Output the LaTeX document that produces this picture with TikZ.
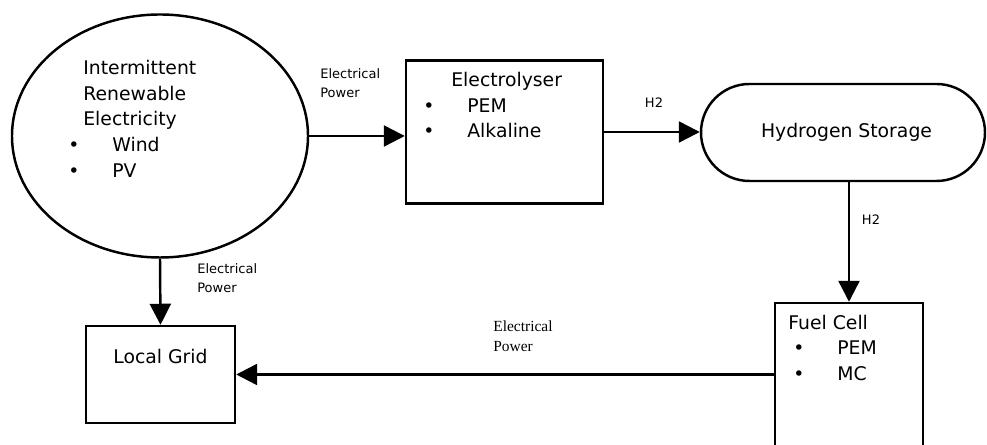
\documentclass[tikz,border=0pt]{standalone}
\usepackage{fontspec}
\setmainfont{DejaVu Sans}
\newfontfamily\lblserif{Liberation Serif}
\usetikzlibrary{arrows.meta,shapes.geometric,shapes.misc}
\newcommand{\itm}[1]{\makebox[0.88cm][l]{\textbullet}#1}
\begin{document}
\begin{tikzpicture}[
    unit/.style={draw, line width=1.4pt, inner sep=0pt},
    arr/.style={line width=1.4pt, -{Triangle[length=0.42cm,width=0.42cm]}},
    body/.style={inner sep=0pt, align=left, font=\fontsize{10.7}{14.6}\selectfont},
    lbl/.style={inner sep=0pt, align=left, font=\fontsize{7.4}{10.8}\selectfont}]
  \useasboundingbox (0,0) rectangle (19.74,8.9);
  % blocks
  \node[unit, ellipse, minimum width=5.92cm, minimum height=4.86cm] (src) at (3.20,6.18) {};
  \node[unit, minimum width=3.94cm, minimum height=2.86cm] (elec) at (10.09,6.26) {};
  \node[unit, rounded rectangle, minimum width=5.68cm, minimum height=1.94cm,
        font=\fontsize{10.7}{14.6}\selectfont] (store) at (16.86,6.25) {\hspace*{0.14cm}Hydrogen Storage};
  \node[unit, minimum width=2.96cm, minimum height=2.94cm] (fuel) at (16.98,1.37) {};
  \node[unit, minimum width=2.98cm, minimum height=1.94cm] (grid) at (3.21,1.41) {};
  % texts in the blocks
  \node[body, anchor=north west] (srctext) at (1.36,7.70)
    {\hspace*{0.30cm}Intermittent\\ \hspace*{0.30cm}Renewable\\ \hspace*{0.30cm}Electricity\\ \itm{Wind}\\ \itm{PV}};
  \node[body, anchor=north west] (electext) at (8.46,7.46)
    {\hspace*{0.56cm}Electrolyser\\ \itm{PEM}\\ \itm{Alkaline}};
  \node[body, anchor=north west] (fueltext) at (15.76,2.61)
    {Fuel Cell\\ \hspace*{0.10cm}\itm{PEM}\\ \hspace*{0.10cm}\itm{MC}};
  \node[body] (gridtext) at (3.21,1.78) {Local Grid};
  % flows
  \draw[arr] (src.east) -- (src.east -| elec.west);
  \draw[arr] (elec.east) -- (elec.east -| store.west);
  \draw[arr] (fuel.north |- store.south) -- (fuel.north);
  \draw[arr] (src.south) -- (grid.north);
  \draw[arr] (fuel.west |- grid.east) -- (grid.east);
  % flow labels
  \node[lbl, anchor=west] (pw1) at (6.40,7.23) {Electrical\\Power};
  \node[lbl, anchor=west] (pw2) at (3.94,3.34) {Electrical\\Power};
  \node[lbl, anchor=west, font=\lblserif\fontsize{8.8}{11.6}\selectfont] (pw3) at (9.86,2.18) {Electrical\\Power};
  \node[lbl] (h2a) at (13.08,6.84) {H2};
  \node[lbl] (h2b) at (17.42,4.50) {H2};
\end{tikzpicture}
\end{document}
